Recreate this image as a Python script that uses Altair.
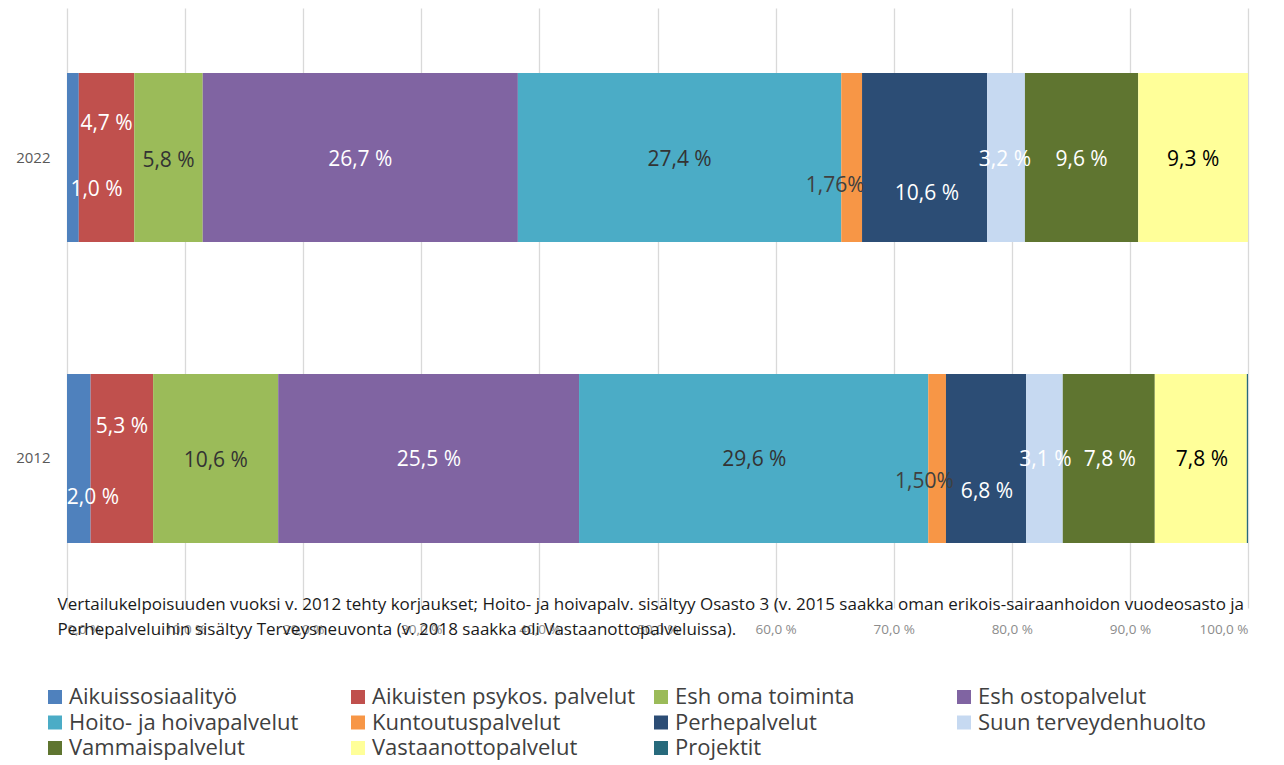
import altair as alt
import pandas as pd

YEARS = ["2022", "2012"]
CATEGORIES = [
    "Aikuissosiaalityö",
    "Aikuisten psykos. palvelut",
    "Esh oma toiminta",
    "Esh ostopalvelut",
    "Hoito- ja hoivapalvelut",
    "Kuntoutuspalvelut",
    "Perhepalvelut",
    "Suun terveydenhuolto",
    "Vammaispalvelut",
    "Vastaanottopalvelut",
    "Projektit",
]
VALUES_2022 = [1.0, 4.7, 5.8, 26.7, 27.4, 1.76, 10.6, 3.2, 9.6, 9.3, 0.0]
VALUES_2012 = [2.0, 5.3, 10.6, 25.5, 29.6, 1.50, 6.8, 3.1, 7.8, 7.8, 0.1]
X_TICKS = [i / 10 for i in range(11)]
NOTE = [
    "Vertailukelpoisuuden  vuoksi v. 2012 tehty korjaukset; Hoito- ja hoivapalv. sisältyy Osasto 3 (v. 2015 saakka oman erikois-sairaanhoidon vuodeosasto ja",
    "Perhepalveluihin sisältyy Terveysneuvonta (v. 2018 saakka oli Vastaanottopalveluissa).",
]

# styles
COLORS = ["#4F81BD", "#C0504D", "#9BBB59", "#8064A2", "#4BACC6", "#F79646",
          "#2C4D75", "#C6D9F1", "#5F7530", "#FFFF99", "#276A7C"]
LABEL_COLORS = ["#ffffff", "#ffffff", "#333333", "#ffffff", "#333333", "#404040",
                "#ffffff", "#ffffff", "#ffffff", "#000000", "#ffffff"]
# label nudges: dx in percentage points, dy in pixels from the bar centre
DX_2022 = [2.0, 0, 0, 0, 0, -1.4, 0.2, -0.1, 0, 0, 0]
DY_2022 = [32, -34, 3, 2, 2, 28, 36, 2, 2, 2, 0]
DX_2012 = [1.2, 0, 0, 0, 0, -1.15, 0, 0, 0, 0, 0]
DY_2012 = [40, -31, 3, 2, 2, 24, 34, 2, 2, 2, 0]
HALF_BAND = 84.5


def fmt(cat, v):
    if cat == "Kuntoutuspalvelut":
        return f"{v:.2f}%".replace(".", ",")
    return f"{v:.1f} %".replace(".", ",")


rows = []
for year, vals, dxs, dys in [("2022", VALUES_2022, DX_2022, DY_2022),
                             ("2012", VALUES_2012, DX_2012, DY_2012)]:
    for i, (c, v) in enumerate(zip(CATEGORIES, vals)):
        rows.append({
            "year": year, "category": c, "value": v, "order": i,
            "label": fmt(c, v), "lc": LABEL_COLORS[i],
            "dx": dxs[i] / 100.0, "dy": dys[i] + HALF_BAND,
            "show": (v > 0) and c != "Projektit",
        })
df = pd.DataFrame(rows)

FONT = "Open Sans"

y_enc = alt.Y(
    "year:N",
    sort=YEARS,
    scale=alt.Scale(domain=YEARS, paddingInner=0.4385, paddingOuter=0.216),
    axis=alt.Axis(title=None, labelFontSize=15, labelColor="#595959", labelFont=FONT,
                  labelPadding=17, domain=False, ticks=False, grid=False),
)

bars = alt.Chart(df).mark_bar().encode(
    x=alt.X(
        "value:Q",
        stack="normalize",
        scale=alt.Scale(domain=[0, 1]),
        axis=alt.Axis(
            values=X_TICKS,
            labelExpr="replace(format(datum.value*100, '.1f'), '.', ',') + ' %'",
            labelFontSize=13.5, labelColor="#8c8c8c", labelFont=FONT,
            labelPadding=14, domain=False, ticks=False,
            grid=True, gridColor="#d9d9d9", gridWidth=1.3,
            title=NOTE, titleAnchor="start", titleAlign="left", titleBaseline="top",
            titleX=-10, titleY=-12, titleFontSize=17, titleFontWeight="normal",
            titleColor="#1a1a1a", titleFont=FONT, titleLineHeight=25,
        ),
    ),
    y=y_enc,
    color=alt.Color(
        "category:N",
        scale=alt.Scale(domain=CATEGORIES, range=COLORS),
        legend=alt.Legend(
            title=None, orient="none", legendX=-23, legendY=678, columns=4,
            direction="horizontal", gridAlign="all", symbolType="square",
            symbolSize=196, symbolStrokeWidth=0, labelFontSize=22, labelFont=FONT,
            labelColor="#404040", labelLimit=400, columnPadding=14,
            rowPadding=3.5, labelOffset=3, padding=0,
        ),
    ),
    order=alt.Order("order:Q"),
)

labels = alt.Chart(df).transform_filter(
    "datum.show"
).transform_stack(
    stack="value", groupby=["year"], as_=["x0", "x1"], offset="normalize",
    sort=[alt.SortField("order", "ascending")],
).transform_calculate(
    mid="(datum.x0 + datum.x1) / 2 + datum.dx"
).mark_text(fontSize=21, font=FONT, baseline="middle", align="center").encode(
    x=alt.X("mid:Q", scale=alt.Scale(domain=[0, 1])),
    y=y_enc,
    yOffset=alt.YOffset("dy:Q", scale=None),
    text="label:N",
    color=alt.Color("lc:N", scale=None),
)

chart = alt.layer(bars, labels).properties(
    width=1181, height=600,
    autosize=alt.AutoSizeParams(type="none"),
    padding={"left": 59, "top": 0, "right": 28, "bottom": 156},
).configure_view(stroke=None)

chart.save("out.html", embed_options={"renderer": "svg", "actions": False})
